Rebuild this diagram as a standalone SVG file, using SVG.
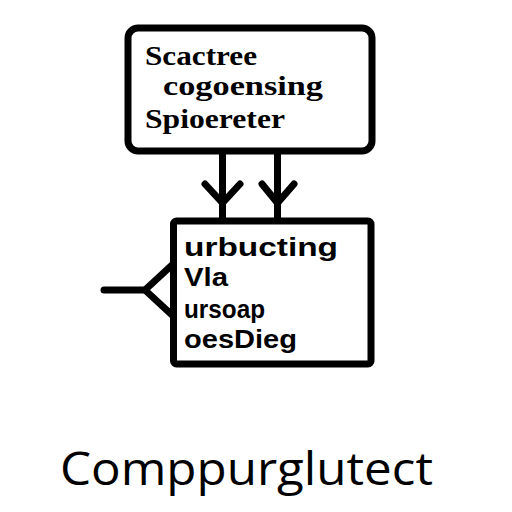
<svg xmlns="http://www.w3.org/2000/svg" width="512" height="512" viewBox="0 0 512 512">
<style>
.box{fill:#fff;stroke:#000;stroke-width:7}
.ln{fill:none;stroke:#000;stroke-width:7;stroke-linecap:round;stroke-linejoin:round}
.t1{font-family:"Liberation Serif","Times New Roman",serif;font-weight:bold;font-size:27px;fill:#000}
.t2{font-family:"Liberation Sans",Arial,sans-serif;font-weight:bold;font-size:25px;fill:#000}
.t3{font-family:"Open Sans","Noto Sans",sans-serif;font-size:45px;fill:#000}
</style>
<rect width="512" height="512" fill="#fff"/>
<g id="connectors">
<line class="ln" x1="222.5" y1="151" x2="222.5" y2="221"/>
<line class="ln" x1="277.5" y1="151" x2="277.5" y2="221"/>
<polyline class="ln" points="205,184 222.5,203 240,184"/>
<polyline class="ln" points="262,184 277.5,203 294,184"/>
<line class="ln" x1="104" y1="290" x2="145" y2="290"/>
<polyline class="ln" points="172,265 145,290 172,315"/>
</g>
<g id="node-top">
<rect class="box" x="128" y="28" width="244" height="123" rx="10"/>
<text class="t1" x="145" y="65" textLength="112" lengthAdjust="spacingAndGlyphs">Scactree</text>
<text class="t1" x="163" y="95" textLength="160" lengthAdjust="spacingAndGlyphs">cogoensing</text>
<text class="t1" x="145" y="128" textLength="140" lengthAdjust="spacingAndGlyphs">Spioereter</text>
</g>
<g id="node-bottom">
<rect class="box" x="173.5" y="221" width="197.5" height="143" rx="3"/>
<text class="t2" x="184" y="256" textLength="154" lengthAdjust="spacingAndGlyphs">urbucting</text>
<text class="t2" x="184" y="286" textLength="44" lengthAdjust="spacingAndGlyphs">Vla</text>
<text class="t2" x="184" y="318" textLength="81" lengthAdjust="spacingAndGlyphs">ursoap</text>
<text class="t2" x="184" y="348" textLength="113" lengthAdjust="spacingAndGlyphs">oesDieg</text>
</g>
<g id="caption">
<text class="t3" x="60" y="485" textLength="373" lengthAdjust="spacingAndGlyphs">Comppurglutect</text>
</g>
</svg>
